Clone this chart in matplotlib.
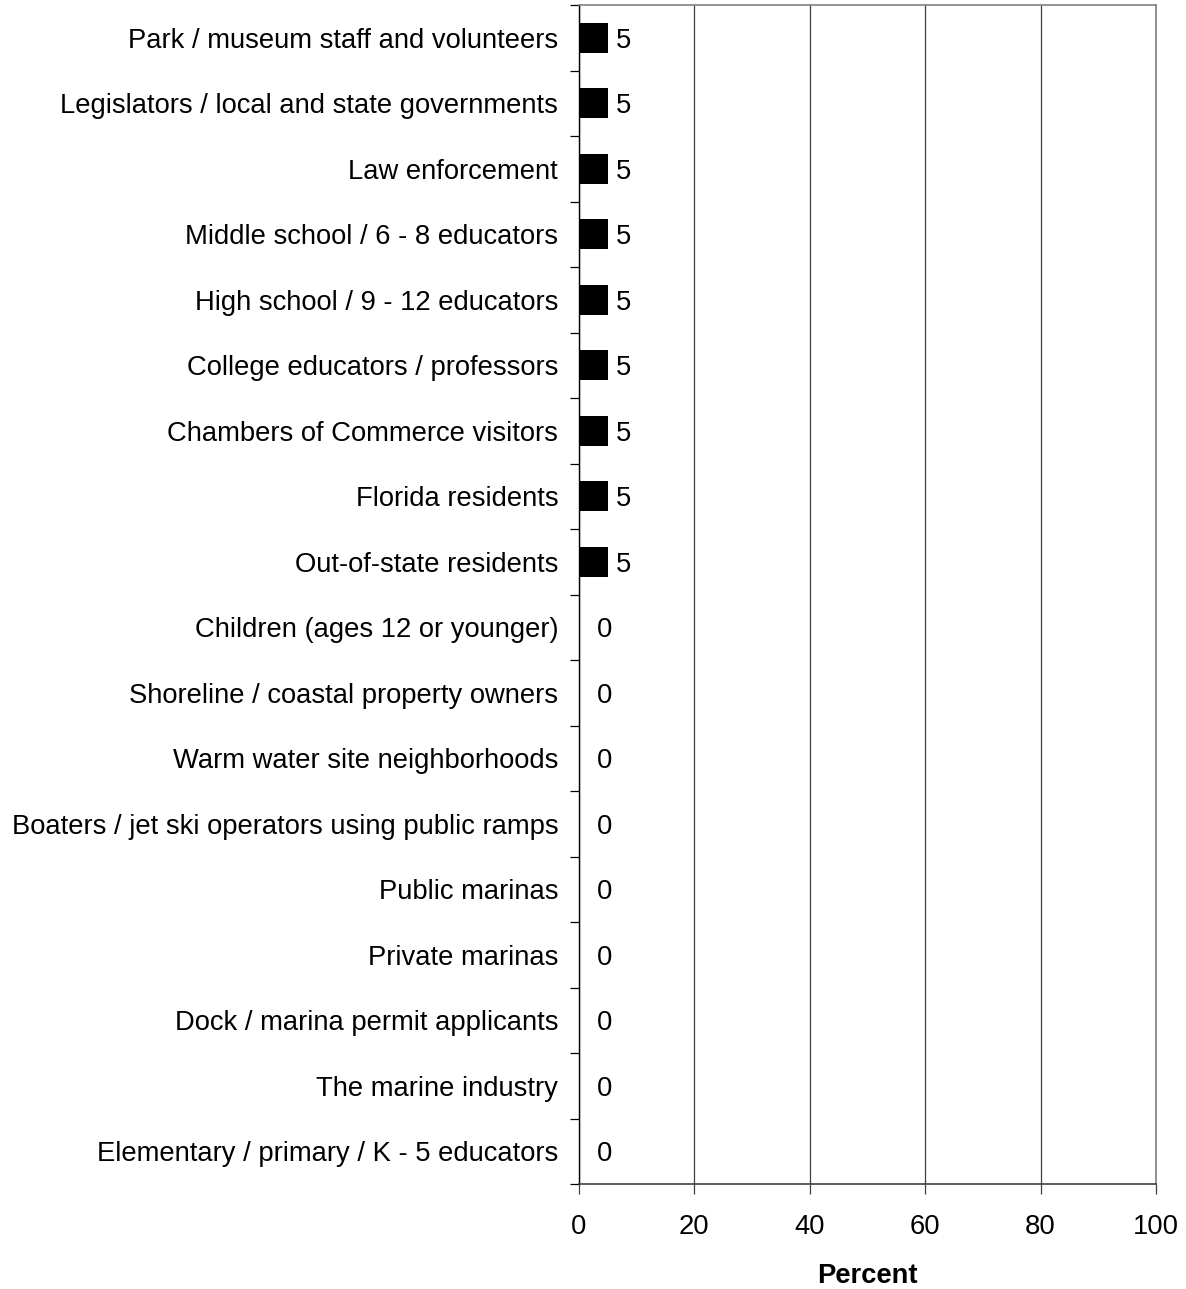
import matplotlib.pyplot as plt
import numpy as np

plt.rcParams["font.family"] = ["Liberation Sans", "DejaVu Sans"]

categories = [
    "Park / museum staff and volunteers",
    "Legislators / local and state governments",
    "Law enforcement",
    "Middle school / 6 - 8 educators",
    "High school / 9 - 12 educators",
    "College educators / professors",
    "Chambers of Commerce visitors",
    "Florida residents",
    "Out-of-state residents",
    "Children (ages 12 or younger)",
    "Shoreline / coastal property owners",
    "Warm water site neighborhoods",
    "Boaters / jet ski operators using public ramps",
    "Public marinas",
    "Private marinas",
    "Dock / marina permit applicants",
    "The marine industry",
    "Elementary / primary / K - 5 educators",
]
values = [5, 5, 5, 5, 5, 5, 5, 5, 5, 0, 0, 0, 0, 0, 0, 0, 0, 0]
xticks = [0, 20, 40, 60, 80, 100]

FS = 19.7

fig = plt.figure(figsize=(11.86, 12.89), dpi=100)
ax = fig.add_axes([579 / 1186, 1 - 1184 / 1289, 577 / 1186, 1179 / 1289])

n = len(categories)
ypos = np.arange(n)
ax.barh(ypos, values, height=0.46, color="black", zorder=3)
for y, v in zip(ypos, values):
    # Excel-style label offset: small gap after a bar, larger for zero
    off = 5.8 if v > 0 else 13
    ax.annotate(f"{v}", (v, y), xytext=(off, 0), textcoords="offset points",
                va="center_baseline", ha="left", fontsize=FS)

ax.set_ylim(n - 0.5, -0.5)
ax.set_xlim(0, 100)
ax.set_xticks(xticks)
ax.set_xticklabels([str(t) for t in xticks], fontsize=FS)
ax.xaxis.grid(True, color="#404040", linewidth=0.9, zorder=0)
ax.tick_params(axis="x", length=7, width=0.9, color="#404040", pad=14.5)

# category labels as text, ticks at category boundaries
ax.set_yticks(np.arange(-0.5, n, 1.0))
ax.set_yticklabels([])
ax.tick_params(axis="y", length=6.5, width=0.9, color="black")
for y, c in zip(ypos, categories):
    ax.annotate(c, (0, y), xytext=(-15, 0), textcoords="offset points",
                va="center_baseline", ha="right", fontsize=FS)

ax.spines["left"].set_color("black")
ax.spines["bottom"].set_color("#404040")
ax.spines["top"].set_color("#808080")
ax.spines["right"].set_color("#808080")
for s in ax.spines.values():
    s.set_linewidth(1.2)
ax.spines["left"].set_linewidth(1.0)

ax.set_xlabel("Percent", fontsize=FS, fontweight="bold", labelpad=17)

fig.savefig("out.png", dpi=100)
